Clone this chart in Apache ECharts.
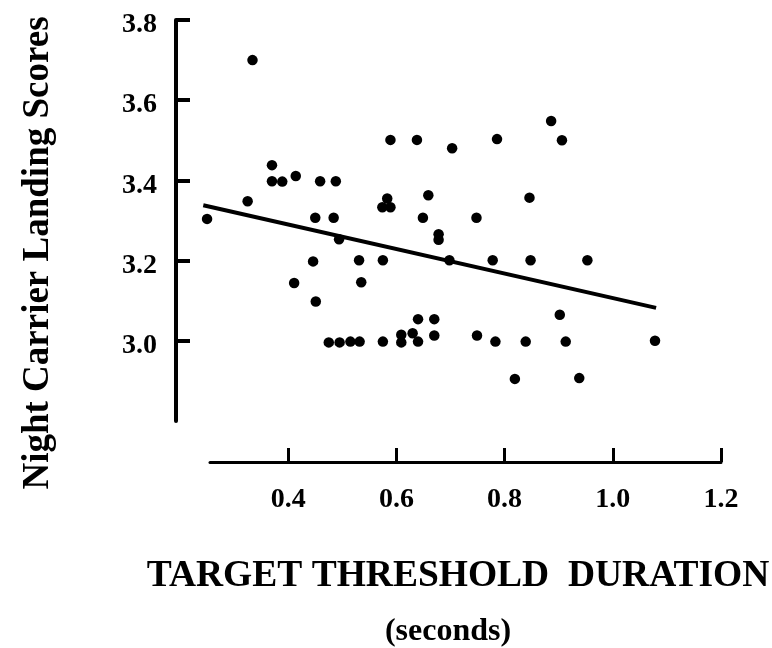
<!DOCTYPE html>
<html>
<head>
<meta charset="utf-8">
<script src="https://cdn.jsdelivr.net/npm/echarts@6/dist/echarts.min.js"></script>
<style>html,body{margin:0;padding:0;background:#fff;}#chart{width:772px;height:648px;}</style>
</head>
<body>
<div id="chart"></div>
<script>
// Data
var thresholdDuration = [
  0.250, 0.334, 0.325, 0.370, 0.370, 0.389, 0.414, 0.459, 0.488, 0.450,
  0.484, 0.411, 0.446, 0.451, 0.494, 0.531, 0.535, 0.475, 0.495, 0.515,
  0.532, 0.575, 0.575, 0.583, 0.574, 0.589, 0.589, 0.638, 0.703, 0.659,
  0.649, 0.678, 0.678, 0.698, 0.778, 0.748, 0.786, 0.609, 0.609, 0.630,
  0.640, 0.640, 0.670, 0.670, 0.749, 0.783, 0.846, 0.848, 0.953, 0.902,
  0.839, 0.913, 1.078, 0.819, 0.938, 0.886, 0.906
];
var landingScores = [
  3.304, 3.700, 3.348, 3.438, 3.398, 3.397, 3.411, 3.398, 3.398, 3.307,
  3.307, 3.144, 3.198, 3.098, 3.253, 3.201, 3.146, 2.996, 2.996, 2.998,
  2.998, 2.998, 3.201, 3.355, 3.333, 3.333, 3.501, 3.501, 3.480, 3.363,
  3.307, 3.266, 3.252, 3.201, 3.201, 3.307, 3.503, 3.015, 2.996, 3.019,
  3.054, 2.998, 3.054, 3.013, 3.013, 2.998, 3.357, 3.201, 3.201, 3.065,
  2.998, 2.998, 3.000, 2.905, 2.907, 3.548, 3.500
];
var fitLineX = [0.243, 1.080];
var fitLineY = [3.338, 3.082];
var xTickLabels = [0.4, 0.6, 0.8, 1.0, 1.2];
var yTickLabels = [3.0, 3.2, 3.4, 3.6, 3.8];

var points = thresholdDuration.map(function (x, i) { return [x, landingScores[i]]; });
var fitLine = fitLineX.map(function (x, i) { return [x, fitLineY[i]]; });

var FONT = '"Liberation Serif", "Times New Roman", serif';
var chart = echarts.init(document.getElementById('chart'), null, {renderer: 'canvas'});
chart.setOption({
  backgroundColor: '#ffffff',
  animation: false,
  grid: [
    {left: 176, width: 545, top: 20, height: 401},
    {left: 210, right: 51, top: 440, height: 22}
  ],
  xAxis: [
    {gridIndex: 0, type: 'value', min: 0.1926, max: 1.2, show: false},
    {gridIndex: 1, type: 'value', min: 0.2555, max: 1.2,
      axisLine: {show: true, lineStyle: {color: '#000', width: 3}},
      axisTick: {show: true, inside: true, length: 14, lineStyle: {color: '#000', width: 3}, customValues: xTickLabels},
      axisLabel: {show: true, customValues: xTickLabels, margin: 24, color: '#000',
        fontFamily: FONT, fontWeight: 'bold', fontSize: 28,
        formatter: function (v) { return v.toFixed(1); }},
      splitLine: {show: false}
    }
  ],
  yAxis: [
    {gridIndex: 0, type: 'value', min: 2.8, max: 3.8, interval: 0.2,
      axisLine: {show: true, lineStyle: {color: '#000', width: 4}},
      axisTick: {show: true, inside: true, length: 14, lineStyle: {color: '#000', width: 4}, customValues: yTickLabels},
      axisLabel: {show: true, customValues: yTickLabels, margin: 19, color: '#000',
        fontFamily: FONT, fontWeight: 'bold', fontSize: 28, verticalAlign: 'top', lineHeight: 10,
        formatter: function (v) { return v.toFixed(1); }},
      splitLine: {show: false}
    },
    {gridIndex: 1, type: 'value', show: false, min: 0, max: 1}
  ],
  graphic: [
    {type: 'text', x: 38, y: 253, rotation: Math.PI / 2,
      style: {text: 'Night Carrier Landing Scores', fill: '#000', font: 'bold 37px ' + FONT,
        textAlign: 'center', textVerticalAlign: 'middle'}},
    {type: 'text', x: 458, y: 576,
      style: {text: 'TARGET THRESHOLD  DURATION', fill: '#000', font: 'bold 37.5px ' + FONT,
        textAlign: 'center', textVerticalAlign: 'middle'}},
    {type: 'text', x: 448, y: 632,
      style: {text: '(seconds)', fill: '#000', font: 'bold 32px ' + FONT,
        textAlign: 'center', textVerticalAlign: 'middle'}}
  ],
  series: [
    {type: 'scatter', xAxisIndex: 0, yAxisIndex: 0, data: points, symbol: 'circle', symbolSize: 10.5,
      itemStyle: {color: '#000', opacity: 1}, clip: false},
    {type: 'line', xAxisIndex: 0, yAxisIndex: 0, data: fitLine, symbol: 'none',
      lineStyle: {color: '#000', width: 4}, clip: false}
  ]
});
</script>
</body>
</html>
